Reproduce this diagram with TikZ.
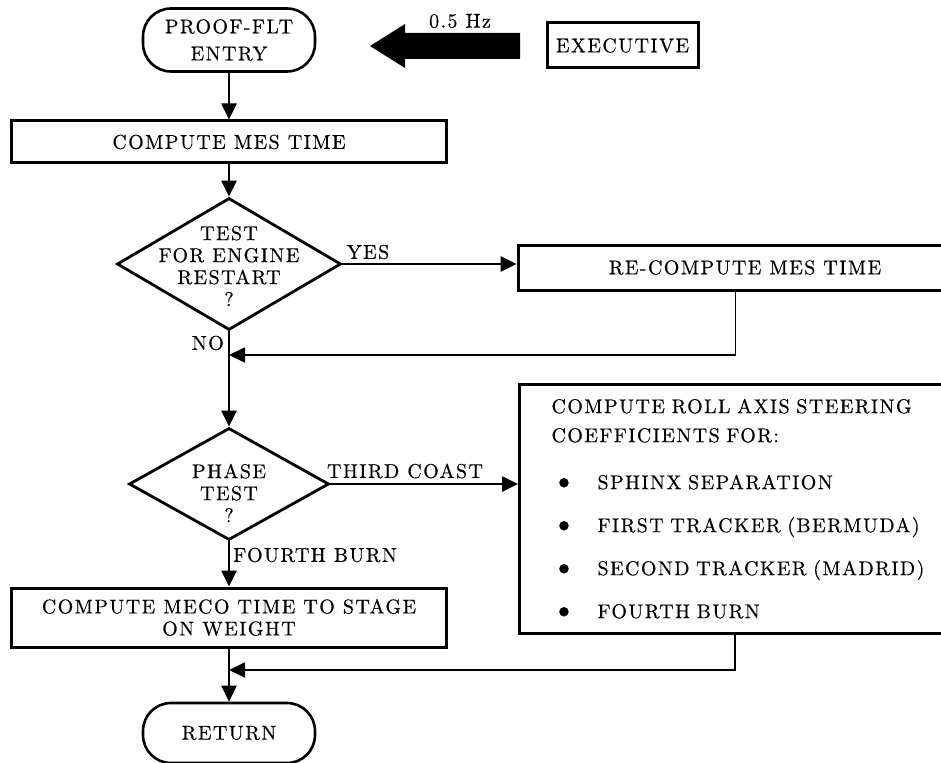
\documentclass[tikz,border=0pt]{standalone}
\usepackage{fontspec}
\usepackage{graphicx}
\newfontfamily\dfont{lmroman10-regular}[Extension=.otf,LetterSpace=7,FakeBold=0.4]
\usetikzlibrary{shapes.geometric,arrows.meta}
\begin{document}
\begin{tikzpicture}[x=1pt,y=-1pt,
  every node/.style={font=\dfont\fontsize{20}{22}\selectfont},
  procbox/.style={draw,line width=3pt,rectangle,inner sep=0pt,align=center},
  termbox/.style={draw,line width=2.6pt,rounded corners=28pt,inner sep=0pt,align=center},
  decbox/.style={draw,line width=2.8pt,diamond,inner sep=0pt},
  conn/.style={line width=2.6pt,-{Triangle[length=16pt,width=15pt]}},
  retline/.style={line width=1.8pt,-{Triangle[length=16pt,width=15pt]}},
  lbl/.style={inner sep=0pt}]
\useasboundingbox (0,0) rectangle (941,762);
\clip (0,0) rectangle (941,762);

% top row
\node[termbox,minimum width=172,minimum height=63] (entry) at (229,40) {PROOF-FLT\\[5pt]ENTRY};
\node[procbox,minimum width=151,minimum height=45] (exec) at (622.5,45.5) {EXECUTIVE};
\fill (370,46) -- (405,24) -- (405,33) -- (520,33) -- (520,59) -- (405,59) -- (405,68) -- cycle;
\node[lbl] (hz) at (460,21) {0.5 Hz};

% main column
\node[procbox,minimum width=435,minimum height=42] (mes) at (229,142) {COMPUTE MES TIME};
\node[decbox,minimum width=224,minimum height=132] (d1) at (229,264) {};
\node[lbl,align=center] (d1t) at (229,266) {TEST\\FOR ENGINE\\RESTART\\?};
\node[procbox,minimum width=454,minimum height=45] (recomp) at (745,267.5) {RE-COMPUTE MES TIME};
\coordinate (j1) at (229,355);
\path (recomp.south west) ++(219,0) coordinate (k1);

\node[decbox,minimum width=200,minimum height=112] (d2) at (229,484) {};
\node[lbl,align=center] (d2t) at (229,493) {PHASE\\TEST\\?};
\node[procbox,anchor=north west,minimum height=249,text width=410,inner xsep=32,align=left,
      font=\dfont\fontsize{20}{29}\selectfont] (roll) at (518,383)
  {COMPUTE ROLL AXIS STEERING\\
   COEFFICIENTS FOR:\\[18pt]
   \makebox[46pt][l]{\raisebox{-1pt}{\scalebox{1.6}{\textbullet}}}SPHINX SEPARATION\\[14pt]
   \makebox[46pt][l]{\raisebox{-1pt}{\scalebox{1.6}{\textbullet}}}FIRST TRACKER (BERMUDA)\\[14pt]
   \makebox[46pt][l]{\raisebox{-1pt}{\scalebox{1.6}{\textbullet}}}SECOND TRACKER (MADRID)\\[14pt]
   \makebox[46pt][l]{\raisebox{-1pt}{\scalebox{1.6}{\textbullet}}}FOURTH BURN};
\path (roll.south west) ++(217,0) coordinate (k2);

\node[procbox,minimum width=435,minimum height=59] (meco) at (229,617.5) {COMPUTE MECO TIME TO STAGE\\ON WEIGHT};
\coordinate (j2) at (229,670);
\node[termbox,minimum width=172,minimum height=60] (ret) at (229,733) {RETURN};

% labels
\node[lbl] (yes) at (368,252) {YES};
\node[lbl,anchor=east] (no) at (224,343) {NO};
\node[lbl] (tc) at (405,471) {THIRD COAST};
\node[lbl,anchor=west] (fb) at (233,555) {FOURTH BURN};

% connectors
\draw[conn] (entry) -- (mes);
\draw[conn] (mes) -- (d1);
\draw[conn] (d1.east) -- (d1.east -| recomp.west);
\draw[conn] (d1.south) -- (d2.north);
\draw[retline] (k1) |- (j1);
\draw[conn] (d2.east) -- (d2.east -| roll.west);
\draw[conn] (d2.south) -- (meco.north);
\draw[conn] (meco) -- (ret);
\draw[retline] (k2) |- (j2);
\end{tikzpicture}
\end{document}
